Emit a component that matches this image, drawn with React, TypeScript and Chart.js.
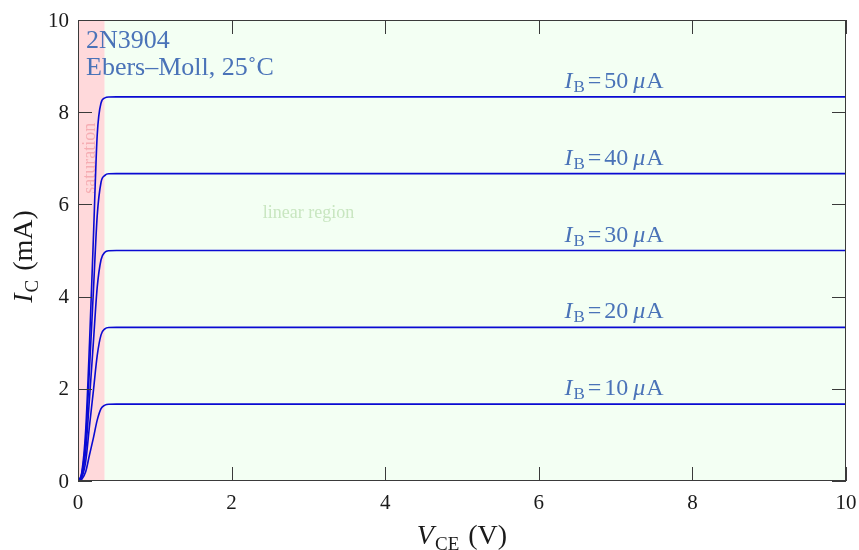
import React, { useEffect, useRef } from "react";
import { Chart, registerables } from "chart.js";

Chart.register(...registerables);

// ---- data ----
const VCE = [0, 0.05, 0.1, 0.15, 0.2, 0.25, 0.3, 0.35, 0.4, 0.5, 10];
const IC_10 = [0, 0.04, 0.2, 0.57, 0.93, 1.32, 1.57, 1.645, 1.665, 1.667, 1.667];
const IC_20 = [0, 0.08, 0.42, 1.2, 1.95, 2.72, 3.17, 3.3, 3.33, 3.333, 3.333];
const IC_30 = [0, 0.12, 0.65, 1.8, 3.0, 4.2, 4.8, 4.96, 4.995, 5.0, 5.0];
const IC_40 = [0, 0.16, 0.88, 2.45, 4.1, 5.75, 6.48, 6.63, 6.665, 6.667, 6.667];
const IC_50 = [0, 0.2, 1.1, 3.0, 5.25, 7.5, 8.2, 8.31, 8.33, 8.333, 8.333];
const SERIES = [IC_10, IC_20, IC_30, IC_40, IC_50];
const IB_LABELS = ["10", "20", "30", "40", "50"];
const LABEL_X = 6.98;

const X_TICKS = [0, 2, 4, 6, 8, 10];
const Y_TICKS = [0, 2, 4, 6, 8, 10];
const SAT_LIMIT = 0.345;

const INFO_LINES = ["2N3904", "Ebers\u2013Moll, 25\u02DAC"];
const SAT_TEXT = "saturation";
const LIN_TEXT = "linear region";
const LIN_POS = [3.0, 5.8];

const SERIF = "'Liberation Serif', 'DejaVu Serif', serif";
const BLUE_TEXT = "#4a73b8";
const CURVE = "#0a0ad2";

type Part = { t: string; font: string; dy?: number; gap?: number };

function drawRich(ctx: CanvasRenderingContext2D, parts: Part[], x: number, y: number, align: "left" | "center") {
  let total = 0;
  for (const p of parts) {
    ctx.font = p.font;
    total += ctx.measureText(p.t).width + (p.gap || 0);
  }
  let cx = align === "center" ? x - total / 2 : x;
  ctx.textAlign = "left";
  ctx.textBaseline = "alphabetic";
  for (const p of parts) {
    ctx.font = p.font;
    ctx.fillText(p.t, cx, y + (p.dy || 0));
    cx += ctx.measureText(p.t).width + (p.gap || 0);
  }
}

const decorPlugin = {
  id: "decor",
  beforeDatasetsDraw(chart: any) {
    const { ctx, chartArea: a, scales } = chart;
    const xs = scales.x;
    const ys = scales.y;
    const xs0 = xs.getPixelForValue(SAT_LIMIT);
    ctx.save();
    ctx.fillStyle = "#f3fff3";
    ctx.fillRect(xs0, a.top, a.right - xs0, a.bottom - a.top);
    ctx.fillStyle = "#ffd9db";
    ctx.fillRect(a.left, a.top, xs0 - a.left, a.bottom - a.top);
    // region texts
    ctx.fillStyle = "#c8e6c0";
    ctx.font = `18px ${SERIF}`;
    ctx.textAlign = "center";
    ctx.textBaseline = "middle";
    ctx.fillText(LIN_TEXT, xs.getPixelForValue(LIN_POS[0]), ys.getPixelForValue(LIN_POS[1]));
    ctx.save();
    ctx.translate(xs.getPixelForValue(SAT_LIMIT / 2) - 1, ys.getPixelForValue(7.0));
    ctx.rotate(-Math.PI / 2);
    ctx.fillStyle = "#f6adb3";
    ctx.font = `18px ${SERIF}`;
    ctx.fillText(SAT_TEXT, 0, 0);
    ctx.restore();
    ctx.restore();
  },
  afterDatasetsDraw(chart: any) {
    const { ctx, chartArea: a, scales } = chart;
    const xs = scales.x;
    const ys = scales.y;
    ctx.save();
    // frame
    ctx.strokeStyle = "#3a3a3a";
    ctx.lineWidth = 1;
    ctx.strokeRect(a.left + 0.5, a.top + 0.5, a.right - a.left - 1, a.bottom - a.top - 1);
    const TL = 14;
    ctx.beginPath();
    for (const v of X_TICKS) {
      const px = Math.round(xs.getPixelForValue(v)) + 0.5;
      ctx.moveTo(px, a.bottom);
      ctx.lineTo(px, a.bottom - TL);
      ctx.moveTo(px, a.top);
      ctx.lineTo(px, a.top + TL);
    }
    for (const v of Y_TICKS) {
      const py = Math.round(ys.getPixelForValue(v)) + 0.5;
      ctx.moveTo(a.left, py);
      ctx.lineTo(a.left + TL, py);
      ctx.moveTo(a.right, py);
      ctx.lineTo(a.right - TL, py);
    }
    ctx.stroke();
    // tick labels
    ctx.fillStyle = "#1a1a1a";
    ctx.font = `21px ${SERIF}`;
    ctx.textAlign = "center";
    ctx.textBaseline = "middle";
    for (const v of X_TICKS) {
      ctx.fillText(String(v), xs.getPixelForValue(v), a.bottom + 22);
    }
    ctx.textAlign = "right";
    for (const v of Y_TICKS) {
      ctx.fillText(String(v), a.left - 9, ys.getPixelForValue(v) + 1);
    }
    // axis titles
    ctx.fillStyle = "#1a1a1a";
    const big = `28px ${SERIF}`;
    const bigI = `italic 28px ${SERIF}`;
    const sub = `19px ${SERIF}`;
    drawRich(
      ctx,
      [
        { t: "V", font: bigI, gap: 1 },
        { t: "CE", font: sub, dy: 6, gap: 2 },
        { t: " (V)", font: big },
      ],
      (a.left + a.right) / 2,
      a.bottom + 63,
      "center"
    );
    ctx.save();
    ctx.translate(32, (a.top + a.bottom) / 2 + 6);
    ctx.rotate(-Math.PI / 2);
    drawRich(
      ctx,
      [
        { t: "I", font: bigI, gap: 1 },
        { t: "C", font: sub, dy: 6, gap: 2 },
        { t: " (mA)", font: big },
      ],
      0,
      0,
      "center"
    );
    ctx.restore();
    // info text
    ctx.fillStyle = BLUE_TEXT;
    ctx.font = `26px ${SERIF}`;
    ctx.textAlign = "left";
    ctx.textBaseline = "alphabetic";
    ctx.fillText(INFO_LINES[0], a.left + 8, a.top + 28);
    ctx.fillText(INFO_LINES[1], a.left + 8, a.top + 55);
    // curve labels
    const lf = `24px ${SERIF}`;
    const lfi = `italic 24px ${SERIF}`;
    const ls = `17px ${SERIF}`;
    SERIES.forEach((s, i) => {
      const py = ys.getPixelForValue(s[s.length - 1]);
      drawRich(
        ctx,
        [
          { t: "I", font: lfi, gap: 1 },
          { t: "B", font: ls, dy: 4, gap: 3 },
          { t: "=", font: lf, gap: 3 },
          { t: IB_LABELS[i], font: lf, gap: 5 },
          { t: "\u03BC", font: lfi, gap: 1 },
          { t: "A", font: lf },
        ],
        xs.getPixelForValue(LABEL_X),
        py - 9,
        "center"
      );
    });
    ctx.restore();
  },
};

export default function App() {
  const ref = useRef<HTMLCanvasElement>(null);
  useEffect(() => {
    if (!ref.current) return;
    const chart = new Chart(ref.current, {
      type: "line",
      data: {
        datasets: SERIES.map((s, i) => ({
          label: `IB=${IB_LABELS[i]}uA`,
          data: VCE.map((v, k) => ({ x: v, y: s[k] })),
          borderColor: CURVE,
          borderWidth: 1.6,
          pointRadius: 0,
          fill: false,
          cubicInterpolationMode: "monotone" as const,
        })),
      },
      options: {
        responsive: false,
        animation: false,
        layout: { padding: { left: 78, right: 13, top: 20, bottom: 69 } },
        plugins: { legend: { display: false }, tooltip: { enabled: false } },
        scales: {
          x: { type: "linear", min: 0, max: 10, display: false },
          y: { type: "linear", min: 0, max: 10, display: false },
        },
      },
      plugins: [decorPlugin],
    });
    return () => chart.destroy();
  }, []);
  return (
    <div style={{ position: "absolute", left: 0, top: 0, width: 859, height: 550, background: "#fff" }}>
      <canvas ref={ref} width={859} height={550} style={{ display: "block" }} />
    </div>
  );
}
